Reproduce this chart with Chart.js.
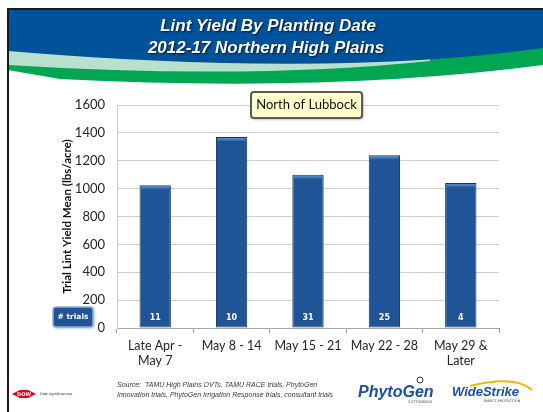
<!DOCTYPE html>
<html>
<head>
<meta charset="utf-8">
<script src="https://cdn.jsdelivr.net/npm/chart.js@4.4.1/dist/chart.umd.min.js"></script>
<style>
  html, body { margin: 0; padding: 0; background: #ffffff; }
  #wrap { position: relative; width: 543px; height: 412px; }
  canvas { display: block; }
</style>
</head>
<body>
<div id="wrap"><canvas id="c" width="543" height="412"></canvas></div>
<script>
const titleLines = ["Lint Yield By Planting Date", "2012-17 Northern High Plains"];
const categories = [["Late Apr -", "May 7"], ["May 8 - 14"], ["May 15 - 21"], ["May 22 - 28"], ["May 29 &", "Later"]];
const yieldMeans = [1025, 1370, 1100, 1240, 1040];
const trialCounts = [11, 10, 31, 25, 4];
const yTicks = [0, 200, 400, 600, 800, 1000, 1200, 1400, 1600];
const yTitle = "Trial Lint Yield Mean (lbs/acre)";
const regionLabel = "North of Lubbock";
const trialsLabel = "# trials";
const sourceLines = ["Source:  TAMU High Plains OVTs, TAMU RACE trials, PhytoGen",
                     "Innovation trials, PhytoGen Irrigation Response trials, consultant trials"];

function roundRect(ctx, x, y, w, h, r) {
  ctx.beginPath();
  ctx.moveTo(x + r, y);
  ctx.lineTo(x + w - r, y);
  ctx.quadraticCurveTo(x + w, y, x + w, y + r);
  ctx.lineTo(x + w, y + h - r);
  ctx.quadraticCurveTo(x + w, y + h, x + w - r, y + h);
  ctx.lineTo(x + r, y + h);
  ctx.quadraticCurveTo(x, y + h, x, y + h - r);
  ctx.lineTo(x, y + r);
  ctx.quadraticCurveTo(x, y, x + r, y);
  ctx.closePath();
}

const decor = {
  id: 'decor',
  beforeDraw(chart) {
    const ctx = chart.ctx;
    ctx.save();
    ctx.fillStyle = '#ffffff';
    ctx.fillRect(0, 0, 543, 412);
    // green swoosh
    ctx.fillStyle = '#00a651';
    ctx.beginPath();
    ctx.moveTo(8, 45); ctx.lineTo(543, 45); ctx.lineTo(543, 65);
    ctx.quadraticCurveTo(330, 93, 60, 79);
    ctx.lineTo(8, 70); ctx.closePath(); ctx.fill();
    // light green band
    ctx.fillStyle = '#b9e0cc';
    ctx.beginPath();
    ctx.moveTo(8, 45); ctx.lineTo(430, 45); ctx.lineTo(430, 61);
    ctx.quadraticCurveTo(250, 80, 8, 65);
    ctx.closePath(); ctx.fill();
    // blue header
    ctx.fillStyle = '#00529b';
    ctx.beginPath();
    ctx.moveTo(8, 10); ctx.lineTo(543, 10); ctx.lineTo(543, 48);
    ctx.quadraticCurveTo(330, 78, 8, 51);
    ctx.closePath(); ctx.fill();
    // frame lines
    ctx.fillStyle = '#1a1a1a';
    ctx.fillRect(7, 8, 536, 2);
    ctx.fillRect(7, 8, 2, 404);
    // title
    ctx.font = 'italic bold 17px "Liberation Sans", Arial, sans-serif';
    ctx.textAlign = 'center';
    ctx.textBaseline = 'middle';
    ctx.shadowColor = 'rgba(0,0,0,0.7)';
    ctx.shadowOffsetX = 1; ctx.shadowOffsetY = 1; ctx.shadowBlur = 2;
    ctx.fillStyle = '#ffffff';
    ctx.fillText(titleLines[0], 268, 26);
    ctx.fillText(titleLines[1], 266, 48);
    ctx.restore();
  },
  afterDatasetsDraw(chart) {
    const ctx = chart.ctx;
    const meta = chart.getDatasetMeta(0);
    const yScale = chart.scales.y;
    ctx.save();
    meta.data.forEach((bar, i) => {
      const w = bar.width;
      const g = ctx.createLinearGradient(0, bar.y, 0, bar.y + 4);
      g.addColorStop(0, '#6f9fd8');
      g.addColorStop(1, '#2d64a8');
      ctx.fillStyle = g;
      ctx.fillRect(bar.x - w / 2 + 1.5, bar.y + 1, w - 3, 3);
      ctx.fillStyle = '#ffffff';
      ctx.font = 'bold 8px "DejaVu Sans", sans-serif';
      ctx.textAlign = 'center';
      ctx.textBaseline = 'middle';
      ctx.fillText(String(trialCounts[i]), bar.x, yScale.getPixelForValue(0) - 10);
    });
    ctx.restore();
  },
  afterDraw(chart) {
    const ctx = chart.ctx;
    ctx.save();
    // North of Lubbock box
    ctx.shadowColor = 'rgba(0,0,0,0.45)';
    ctx.shadowBlur = 3; ctx.shadowOffsetX = 1; ctx.shadowOffsetY = 1;
    roundRect(ctx, 251, 92, 111, 26, 3);
    ctx.fillStyle = '#ffffcc';
    ctx.fill();
    ctx.shadowColor = 'transparent';
    ctx.lineWidth = 2;
    ctx.strokeStyle = '#5a5a50';
    ctx.stroke();
    ctx.fillStyle = '#111111';
    ctx.font = '13px Lato, "Open Sans", sans-serif';
    ctx.textAlign = 'center';
    ctx.textBaseline = 'middle';
    ctx.fillText(regionLabel, 306.5, 105);
    // # trials box
    ctx.shadowColor = 'rgba(120,160,210,0.9)';
    ctx.shadowBlur = 3;
    roundRect(ctx, 53, 307, 40, 20, 3);
    ctx.fillStyle = '#1f5597';
    ctx.fill();
    ctx.shadowColor = 'transparent';
    ctx.lineWidth = 1.5;
    ctx.strokeStyle = '#8fb0d8';
    ctx.stroke();
    ctx.fillStyle = '#ffffff';
    ctx.font = 'bold 7.5px "DejaVu Sans", sans-serif';
    ctx.fillText(trialsLabel, 73, 317);
    // Dow logo
    ctx.fillStyle = '#d9001b';
    ctx.beginPath();
    ctx.moveTo(12, 394); ctx.lineTo(20, 390); ctx.lineTo(28, 390); ctx.lineTo(36, 394);
    ctx.lineTo(28, 398); ctx.lineTo(20, 398); ctx.closePath(); ctx.fill();
    ctx.fillStyle = '#ffffff';
    ctx.font = 'bold 5px "DejaVu Sans", sans-serif';
    ctx.fillText('DOW', 24, 394.5);
    ctx.fillStyle = '#333333';
    ctx.font = '3.5px "DejaVu Sans", sans-serif';
    ctx.textAlign = 'left';
    ctx.fillText('Dow AgroSciences', 40, 394.5);
    // source
    ctx.fillStyle = '#3a3a3a';
    ctx.font = 'italic 7px "Liberation Sans", Arial, sans-serif';
    ctx.fillText(sourceLines[0], 117, 385);
    ctx.fillText(sourceLines[1], 117, 395.5);
    // PhytoGen logo
    ctx.fillStyle = '#1a4fa3';
    ctx.font = 'italic bold 16px "Liberation Sans", Arial, sans-serif';
    ctx.textBaseline = 'alphabetic';
    ctx.fillText('PhytoGen', 358, 397);
    ctx.fillStyle = '#444';
    ctx.font = '3.5px "DejaVu Sans", sans-serif';
    ctx.fillText('COTTONSEED', 408, 403);
    ctx.strokeStyle = '#333'; ctx.lineWidth = 1;
    ctx.beginPath(); ctx.arc(420, 380, 3, 0, Math.PI * 2); ctx.stroke();
    // WideStrike logo
    ctx.strokeStyle = '#f2b705'; ctx.lineWidth = 2;
    ctx.beginPath();
    ctx.moveTo(470, 386);
    ctx.quadraticCurveTo(515, 375, 532, 390);
    ctx.stroke();
    ctx.fillStyle = '#1a4fa3';
    ctx.font = 'italic bold 13px "Liberation Sans", Arial, sans-serif';
    ctx.fillText('WideStrike', 452, 396);
    ctx.fillStyle = '#444';
    ctx.font = '3.5px "DejaVu Sans", sans-serif';
    ctx.fillText('INSECT PROTECTION', 484, 402);
    ctx.restore();
  }
};

new Chart(document.getElementById('c'), {
  type: 'bar',
  data: {
    labels: categories,
    datasets: [{
      data: yieldMeans,
      backgroundColor: '#1f5597',
      borderColor: '#17375e',
      borderWidth: 1,
      borderSkipped: false,
      categoryPercentage: 1.0,
      barPercentage: 0.41
    }]
  },
  options: {
    responsive: false,
    animation: false,
    devicePixelRatio: 1,
    layout: { padding: { top: 105, right: 44, bottom: 0, left: 0 } },
    plugins: { legend: { display: false }, tooltip: { enabled: false } },
    scales: {
      x: {
        afterFit(s) { s.height = 84; },
        grid: { offset: true, drawOnChartArea: false, drawTicks: true, tickLength: 5, color: '#a6a6a6' },
        border: { color: '#a6a6a6' },
        ticks: { color: '#262626', font: { family: 'Lato, "Open Sans", sans-serif', size: 12.5 }, padding: 5, maxRotation: 0, autoSkip: false }
      },
      y: {
        min: 0, max: 1600,
        afterFit(s) { s.width = 117; },
        afterBuildTicks(s) { s.ticks = yTicks.map(v => ({ value: v })); },
        grid: { color: '#cfcfcf', drawTicks: false },
        border: { color: '#cfcfcf' },
        ticks: { color: '#262626', font: { family: 'Lato, "Open Sans", sans-serif', size: 13 }, padding: 12,
                 callback: (v) => String(v) },
        title: {
          display: true, text: yTitle, color: '#111111',
          font: { family: 'Lato, "Open Sans", sans-serif', size: 11.5, weight: 'bold' },
          padding: { top: 60, bottom: 0 }
        }
      }
    }
  },
  plugins: [decor]
});
</script>
</body>
</html>
